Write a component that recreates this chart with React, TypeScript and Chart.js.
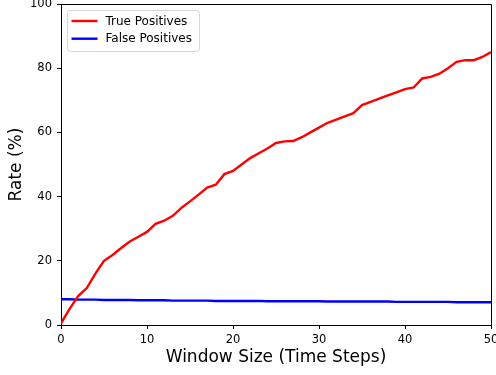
import React, { useEffect, useRef } from "react";
import { Chart, registerables } from "chart.js";

Chart.register(...registerables);

const windowSizes = [
  0, 1, 2, 3, 4, 5, 6, 7, 8, 9, 10, 11, 12, 13, 14, 15, 16, 17, 18, 19, 20,
  21, 22, 23, 24, 25, 26, 27, 28, 29, 30, 31, 32, 33, 34, 35, 36, 37, 38, 39,
  40, 41, 42, 43, 44, 45, 46, 47, 48, 49, 50,
];
const truePositives = [
  0.5, 5, 9, 11.5, 16, 20, 21.8, 24, 26, 27.5, 29, 31.5, 32.5, 34, 36.5, 38.5,
  40.6, 42.8, 43.7, 47, 48, 50, 52, 53.5, 55, 56.7, 57.2, 57.3, 58.5, 60, 61.5,
  63, 64, 65, 66, 68.5, 69.5, 70.5, 71.5, 72.5, 73.5, 74, 76.8, 77.3, 78.3, 80,
  82, 82.5, 82.5, 83.5, 85,
];
const falsePositives = [
  8.0, 8.0, 7.9, 7.9, 7.9, 7.8, 7.8, 7.8, 7.8, 7.7, 7.7, 7.7, 7.7, 7.6, 7.6,
  7.6, 7.6, 7.6, 7.5, 7.5, 7.5, 7.5, 7.5, 7.5, 7.4, 7.4, 7.4, 7.4, 7.4, 7.4,
  7.4, 7.3, 7.3, 7.3, 7.3, 7.3, 7.3, 7.3, 7.3, 7.2, 7.2, 7.2, 7.2, 7.2, 7.2,
  7.2, 7.1, 7.1, 7.1, 7.1, 7.1,
];
const seriesLabels = ["True Positives", "False Positives"];
const seriesColors = ["#ff0000", "#0000ff"];
const xTitle = "Window Size (Time Steps)";
const yTitle = "Rate (%)";

const FONT = "'DejaVu Sans', sans-serif";
const LINE_W = 2.4;

const framePlugin = {
  id: "frame",
  afterDatasetsDraw(chart: any) {
    const { ctx, chartArea } = chart;
    const { left, right, top, bottom } = chartArea;
    ctx.save();
    // top and right spines
    ctx.strokeStyle = "#000";
    ctx.lineWidth = 1;
    ctx.beginPath();
    ctx.moveTo(left, top + 0.5);
    ctx.lineTo(right + 0.5, top + 0.5);
    ctx.lineTo(right + 0.5, bottom);
    ctx.stroke();

    // legend box
    const bx = left + 6.5;
    const by = top + 6.5;
    const bw = 132;
    const bh = 41;
    const r = 3;
    ctx.beginPath();
    ctx.moveTo(bx + r, by);
    ctx.lineTo(bx + bw - r, by);
    ctx.quadraticCurveTo(bx + bw, by, bx + bw, by + r);
    ctx.lineTo(bx + bw, by + bh - r);
    ctx.quadraticCurveTo(bx + bw, by + bh, bx + bw - r, by + bh);
    ctx.lineTo(bx + r, by + bh);
    ctx.quadraticCurveTo(bx, by + bh, bx, by + bh - r);
    ctx.lineTo(bx, by + r);
    ctx.quadraticCurveTo(bx, by, bx + r, by);
    ctx.closePath();
    ctx.fillStyle = "rgba(255,255,255,0.8)";
    ctx.fill();
    ctx.lineWidth = 1;
    ctx.strokeStyle = "rgba(204,204,204,0.8)";
    ctx.stroke();

    chart.data.datasets.forEach((ds: any, i: number) => {
      const yy = by + 10.5 + i * 17.7;
      ctx.strokeStyle = ds.borderColor;
      ctx.lineWidth = LINE_W;
      ctx.beginPath();
      ctx.moveTo(bx + 4, yy);
      ctx.lineTo(bx + 30, yy);
      ctx.stroke();
      ctx.fillStyle = "#000";
      ctx.font = `12px ${FONT}`;
      ctx.textBaseline = "middle";
      ctx.textAlign = "left";
      ctx.fillText(ds.label, bx + 38, yy + 0.5);
    });
    ctx.restore();
  },
};

export default function App() {
  const ref = useRef<HTMLCanvasElement | null>(null);

  useEffect(() => {
    document.body.style.margin = "0";
    const canvas = ref.current;
    if (!canvas) return;
    const chart = new Chart(canvas, {
      type: "line",
      data: {
        labels: windowSizes,
        datasets: [
          {
            label: seriesLabels[0],
            data: windowSizes.map((x, i) => ({ x, y: truePositives[i] })),
            borderColor: seriesColors[0],
            backgroundColor: seriesColors[0],
            borderWidth: LINE_W,
            pointRadius: 0,
            tension: 0,
          },
          {
            label: seriesLabels[1],
            data: windowSizes.map((x, i) => ({ x, y: falsePositives[i] })),
            borderColor: seriesColors[1],
            backgroundColor: seriesColors[1],
            borderWidth: LINE_W,
            pointRadius: 0,
            tension: 0,
          },
        ],
      },
      options: {
        responsive: false,
        animation: false,
        devicePixelRatio: 1,
        layout: { padding: { top: 4, right: 5, left: 0, bottom: 0 } },
        plugins: {
          legend: { display: false },
          tooltip: { enabled: false },
        },
        scales: {
          x: {
            type: "linear",
            min: 0,
            max: 50,
            ticks: {
              stepSize: 10,
              color: "#000",
              font: { family: FONT, size: 11.5 },
              padding: 4,
              maxRotation: 0,
            },
            grid: {
              display: true,
              drawOnChartArea: false,
              drawTicks: true,
              tickLength: 4,
              color: "#000",
            },
            border: { display: true, color: "#000", width: 1 },
            title: {
              display: true,
              text: xTitle,
              color: "#000",
              font: { family: FONT, size: 17 },
              padding: { top: 0, bottom: 7 },
            },
            afterFit(scale: any) {
              scale.height = 50;
              scale.paddingLeft = 0;
              scale.paddingRight = 0;
            },
          },
          y: {
            type: "linear",
            min: 0,
            max: 100,
            ticks: {
              stepSize: 20,
              color: "#000",
              font: { family: FONT, size: 11.5 },
              padding: 5,
            },
            grid: {
              display: true,
              drawOnChartArea: false,
              drawTicks: true,
              tickLength: 4,
              color: "#000",
            },
            border: { display: true, color: "#000", width: 1 },
            title: {
              display: true,
              text: yTitle,
              color: "#000",
              font: { family: FONT, size: 17 },
              padding: { top: 6.5, bottom: 0 },
            },
            afterFit(scale: any) {
              scale.width = 61;
              scale.paddingTop = 0;
              scale.paddingBottom = 0;
            },
          },
        },
      },
      plugins: [framePlugin],
    } as any);
    return () => chart.destroy();
  }, []);

  return (
    <div style={{ width: 496, height: 375 }}>
      <canvas ref={ref} width={496} height={375} style={{ display: "block" }} />
    </div>
  );
}
